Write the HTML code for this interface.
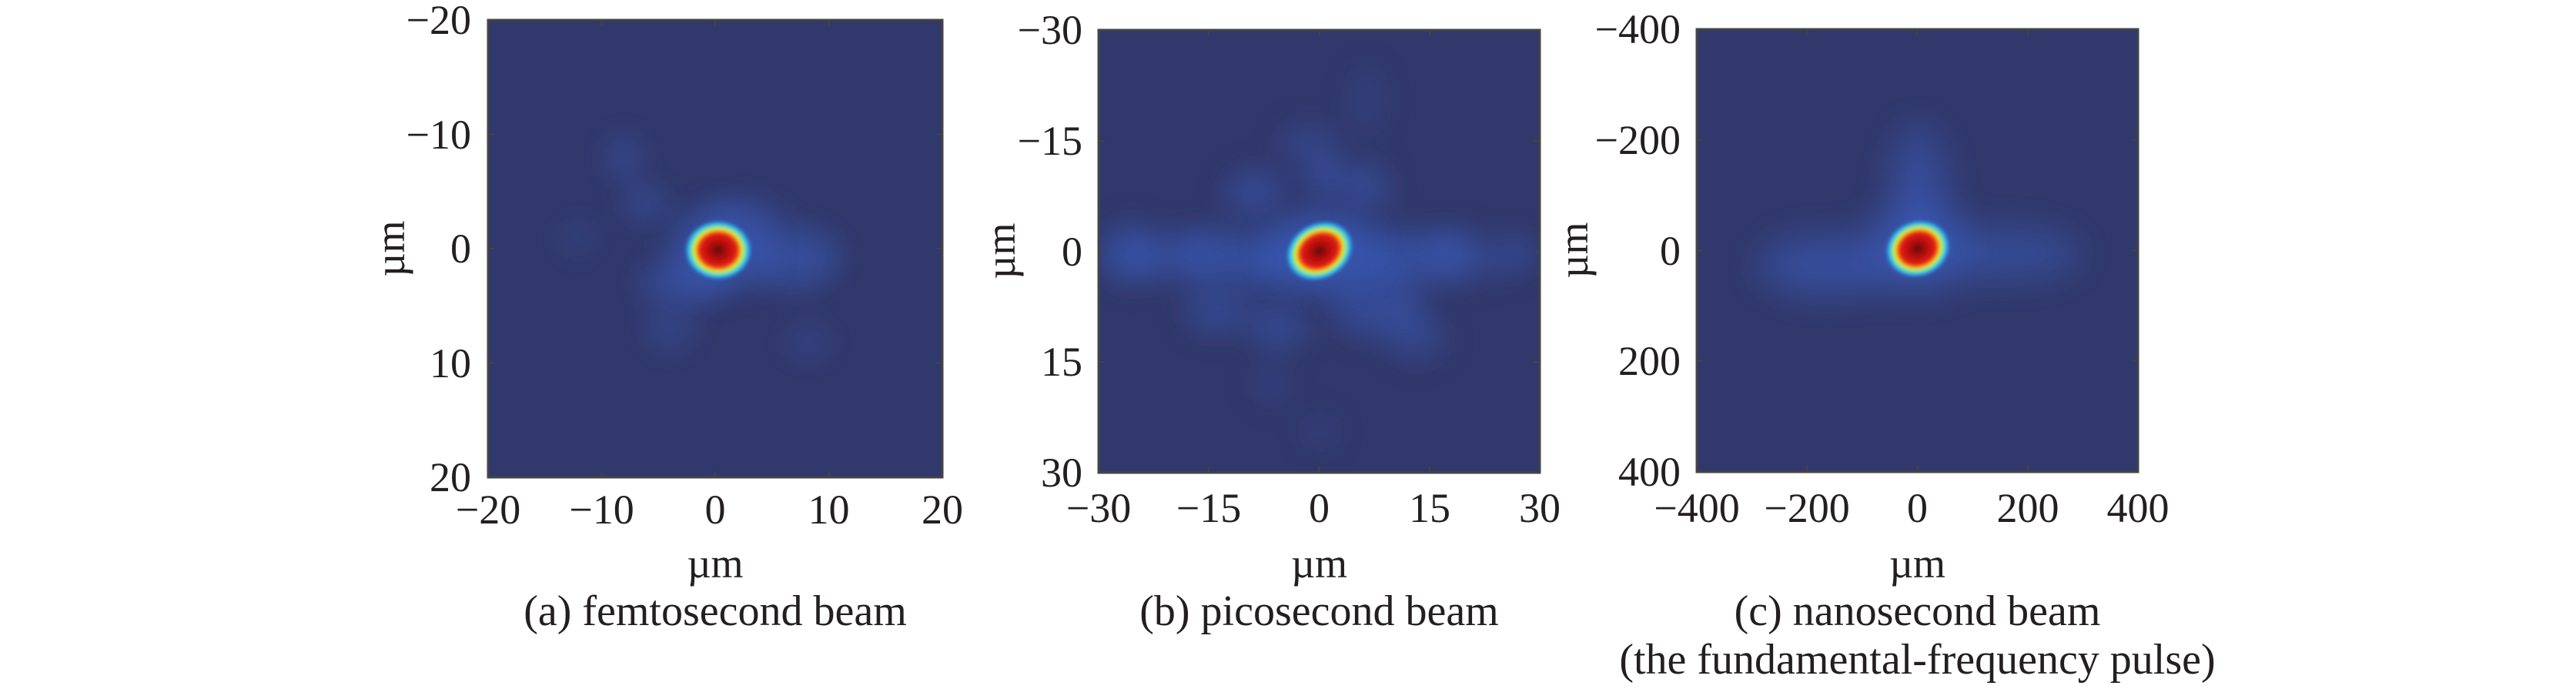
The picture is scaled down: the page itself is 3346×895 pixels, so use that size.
<!DOCTYPE html>
<html><head><meta charset="utf-8"><style>
html,body{margin:0;padding:0;background:#fff;}
svg{display:block;font-family:"Liberation Serif","Times New Roman",serif;}
svg text{font-family:"Liberation Serif","Times New Roman",serif;fill:#231f20;}
</style></head><body>
<svg width="3346" height="895" viewBox="0 0 3346 895" xmlns="http://www.w3.org/2000/svg" font-family="Liberation Serif, serif">
<defs>
<radialGradient id="core">
<stop offset="0" stop-color="#5a0808"/>
<stop offset="0.25" stop-color="#b00d0d"/>
<stop offset="0.52" stop-color="#e01a14"/>
<stop offset="0.62" stop-color="#f06010"/>
<stop offset="0.69" stop-color="#f5e620"/>
<stop offset="0.76" stop-color="#8ee86a"/>
<stop offset="0.84" stop-color="#38d2e8"/>
<stop offset="0.92" stop-color="#2f8ae0"/>
<stop offset="1" stop-color="#3a5fc4" stop-opacity="0"/>
</radialGradient>
<filter id="bl" x="-60%" y="-60%" width="220%" height="220%"><feGaussianBlur stdDeviation="18"/></filter>
<filter id="bl2" x="-60%" y="-60%" width="220%" height="220%"><feGaussianBlur stdDeviation="24"/></filter>
<filter id="bc" x="-50%" y="-50%" width="200%" height="200%"><feGaussianBlur stdDeviation="2"/></filter>
<clipPath id="ca"><rect x="634" y="26" width="590" height="594"/></clipPath>
<clipPath id="cb"><rect x="1427" y="39" width="573" height="575"/></clipPath>
<clipPath id="cc"><rect x="2204" y="38" width="573" height="575"/></clipPath>
</defs>

<!-- Panel a -->
<rect x="634" y="26" width="590" height="594" fill="#31386b"/>
<g clip-path="url(#ca)" fill="#3a5fc4">
<g filter="url(#bl)">
<ellipse cx="1030" cy="335" rx="60" ry="40" opacity="0.5"/>
<ellipse cx="885" cy="368" rx="55" ry="30" opacity="0.45"/>
<ellipse cx="965" cy="285" rx="50" ry="28" opacity="0.35"/>
<ellipse cx="840" cy="265" rx="28" ry="22" opacity="0.4"/>
<ellipse cx="810" cy="205" rx="22" ry="32" opacity="0.35"/>
<ellipse cx="870" cy="430" rx="32" ry="26" opacity="0.3"/>
<ellipse cx="1050" cy="445" rx="32" ry="22" opacity="0.25"/>
<ellipse cx="750" cy="310" rx="22" ry="26" opacity="0.2"/>
</g>
<ellipse cx="935" cy="325" rx="65" ry="55" opacity="0.55" filter="url(#bl)"/>
<ellipse cx="933" cy="325" rx="44" ry="39" fill="url(#core)" filter="url(#bc)"/>
</g>
<rect x="634" y="26" width="590" height="594" fill="none" stroke="#444" stroke-width="3"/>
<g stroke="#444" stroke-width="2">
<path d="M781.5 620v-8M929 620v-8M1076.5 620v-8M781.5 26v8M929 26v8M1076.5 26v8M634 174.5h8M634 323h8M634 471.5h8M1224 174.5h-8M1224 323h-8M1224 471.5h-8"/>
</g>
<g font-size="54" text-anchor="middle">
<text x="634" y="680">−20</text><text x="781.5" y="680">−10</text><text x="929" y="680">0</text><text x="1076.5" y="680">10</text><text x="1224" y="680">20</text>
<text x="929" y="750">µm</text>
<text x="929" y="812" font-size="56">(a) femtosecond beam</text>
</g>
<g font-size="54" text-anchor="end">
<text x="612" y="44">−20</text><text x="612" y="193">−10</text><text x="612" y="341">0</text><text x="612" y="490">10</text><text x="612" y="638">20</text>
</g>
<text font-size="54" text-anchor="middle" transform="translate(525,323) rotate(-90)">µm</text>

<!-- Panel b -->
<rect x="1427" y="39" width="573" height="575" fill="#31386b"/>
<g clip-path="url(#cb)" fill="#3a5fc4">
<g filter="url(#bl)">
<ellipse cx="1715" cy="335" rx="270" ry="42" opacity="0.3"/>
<ellipse cx="1470" cy="330" rx="42" ry="38" opacity="0.5"/>
<ellipse cx="1560" cy="330" rx="42" ry="32" opacity="0.45"/>
<ellipse cx="1640" cy="340" rx="38" ry="30" opacity="0.45"/>
<ellipse cx="1800" cy="335" rx="42" ry="32" opacity="0.45"/>
<ellipse cx="1880" cy="330" rx="38" ry="32" opacity="0.5"/>
<ellipse cx="1975" cy="328" rx="22" ry="22" opacity="0.35"/>
<ellipse cx="1630" cy="250" rx="38" ry="28" opacity="0.45"/>
<ellipse cx="1722" cy="230" rx="28" ry="28" opacity="0.45"/>
<ellipse cx="1775" cy="245" rx="28" ry="32" opacity="0.45"/>
<ellipse cx="1700" cy="185" rx="38" ry="22" opacity="0.35"/>
<ellipse cx="1775" cy="130" rx="22" ry="45" opacity="0.2"/>
<ellipse cx="1580" cy="405" rx="42" ry="28" opacity="0.4"/>
<ellipse cx="1660" cy="425" rx="38" ry="30" opacity="0.4"/>
<ellipse cx="1790" cy="400" rx="62" ry="38" opacity="0.45"/>
<ellipse cx="1840" cy="440" rx="38" ry="28" opacity="0.35"/>
<ellipse cx="1650" cy="500" rx="22" ry="22" opacity="0.25"/>
<ellipse cx="1715" cy="560" rx="22" ry="22" opacity="0.2"/>
</g>
<ellipse cx="1715" cy="326" rx="70" ry="55" opacity="0.55" filter="url(#bl)"/>
<ellipse cx="1714" cy="326" rx="46" ry="37" transform="rotate(-28 1714 326)" fill="url(#core)" filter="url(#bc)"/>
</g>
<rect x="1427" y="39" width="573" height="575" fill="none" stroke="#444" stroke-width="3"/>
<g stroke="#444" stroke-width="2">
<path d="M1570 614v-8M1713.5 614v-8M1857 614v-8M1570 39v8M1713.5 39v8M1857 39v8M1427 183h8M1427 326.5h8M1427 470h8M2000 183h-8M2000 326.5h-8M2000 470h-8"/>
</g>
<g font-size="54" text-anchor="middle">
<text x="1427" y="678">−30</text><text x="1570" y="678">−15</text><text x="1713.5" y="678">0</text><text x="1857" y="678">15</text><text x="2000" y="678">30</text>
<text x="1713.5" y="750">µm</text>
<text x="1713.5" y="812" font-size="56">(b) picosecond beam</text>
</g>
<g font-size="54" text-anchor="end">
<text x="1406" y="57">−30</text><text x="1406" y="201">−15</text><text x="1406" y="345">0</text><text x="1406" y="488">15</text><text x="1406" y="632">30</text>
</g>
<text font-size="54" text-anchor="middle" transform="translate(1318,326) rotate(-90)">µm</text>

<!-- Panel c -->
<rect x="2204" y="38" width="573" height="575" fill="#31386b"/>
<g clip-path="url(#cc)" fill="#3a5fc4">
<g filter="url(#bl2)">
<ellipse cx="2492" cy="250" rx="34" ry="88" opacity="0.55"/>
<ellipse cx="2375" cy="345" rx="92" ry="38" opacity="0.55"/>
<ellipse cx="2605" cy="330" rx="98" ry="32" opacity="0.5"/>
<ellipse cx="2492" cy="322" rx="68" ry="58" opacity="0.6"/>
</g>
<ellipse cx="2491" cy="323" rx="43" ry="37" transform="rotate(-20 2491 323)" fill="url(#core)" filter="url(#bc)"/>
</g>
<rect x="2204" y="38" width="573" height="575" fill="none" stroke="#444" stroke-width="3"/>
<g stroke="#444" stroke-width="2">
<path d="M2347 613v-8M2490.5 613v-8M2634 613v-8M2347 38v8M2490.5 38v8M2634 38v8M2204 182h8M2204 325.5h8M2204 469h8M2777 182h-8M2777 325.5h-8M2777 469h-8"/>
</g>
<g font-size="54" text-anchor="middle">
<text x="2204" y="678">−400</text><text x="2347" y="678">−200</text><text x="2490.5" y="678">0</text><text x="2634" y="678">200</text><text x="2777" y="678">400</text>
<text x="2490.5" y="750">µm</text>
<text x="2490.5" y="812" font-size="56">(c) nanosecond beam</text>
<text x="2490.5" y="875" font-size="56">(the fundamental-frequency pulse)</text>
</g>
<g font-size="54" text-anchor="end">
<text x="2183" y="56">−400</text><text x="2183" y="200">−200</text><text x="2183" y="344">0</text><text x="2183" y="487">200</text><text x="2183" y="631">400</text>
</g>
<text font-size="54" text-anchor="middle" transform="translate(2062,325) rotate(-90)">µm</text>
</svg>
</body></html>
